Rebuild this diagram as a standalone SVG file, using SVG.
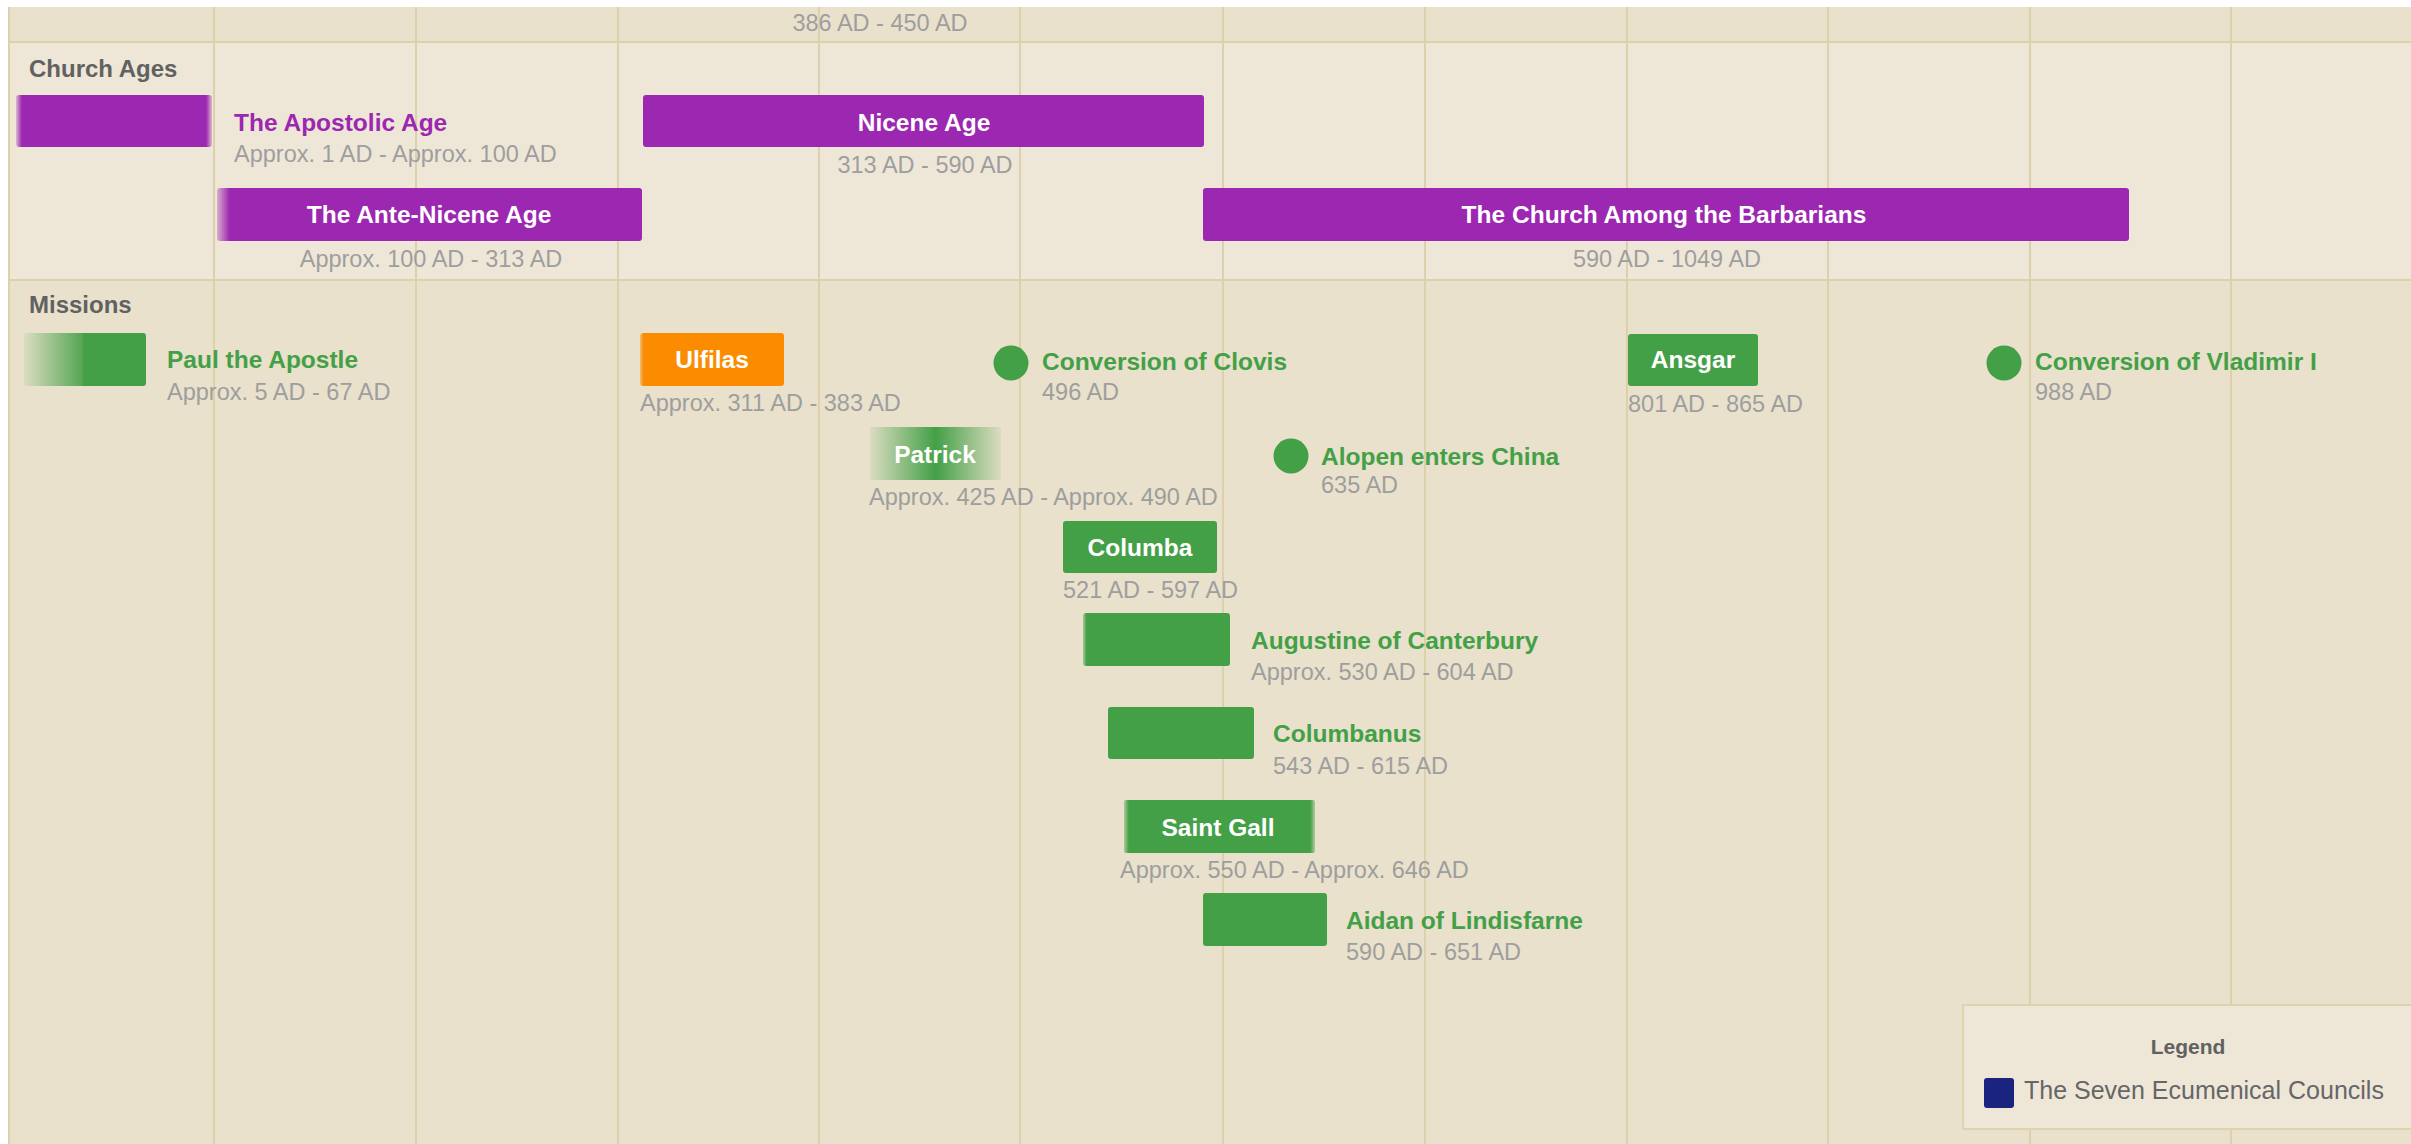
<svg xmlns="http://www.w3.org/2000/svg" width="2411" height="1144" viewBox="0 0 2411 1144">
<style>
.lane{fill:#616161;font-family:"Liberation Sans",Arial,sans-serif;font-weight:bold;font-size:24px}
.t{font-family:"Liberation Sans",Arial,sans-serif;font-weight:bold;font-size:24.5px}
.tw{fill:#ffffff;text-anchor:middle}
.tp{fill:#9C27B0}
.tg{fill:#43A047}
.d{fill:#9e9e9e;font-family:"Liberation Sans",Arial,sans-serif;font-size:23.5px}
.dc{text-anchor:middle}
.grid{stroke:#DDD1AC;stroke-width:2}
.hb{stroke:#DDD0AA;stroke-width:2}
.purple{fill:#9C27B0}
.green{fill:#43A047}
.orange{fill:#FB8C00}
</style>
<defs>
<linearGradient id="gApost" x1="0" y1="0" x2="1" y2="0">
<stop offset="0" stop-color="#9C27B0" stop-opacity="0.25"/>
<stop offset="0.03" stop-color="#9C27B0" stop-opacity="1"/>
<stop offset="0.97" stop-color="#9C27B0" stop-opacity="1"/>
<stop offset="1" stop-color="#9C27B0" stop-opacity="0.25"/>
</linearGradient>
<linearGradient id="gAnte" x1="0" y1="0" x2="1" y2="0">
<stop offset="0" stop-color="#9C27B0" stop-opacity="0.3"/>
<stop offset="0.03" stop-color="#9C27B0" stop-opacity="1"/>
<stop offset="1" stop-color="#9C27B0" stop-opacity="1"/>
</linearGradient>
<linearGradient id="gPaul" x1="0" y1="0" x2="1" y2="0">
<stop offset="0" stop-color="#43A047" stop-opacity="0.08"/>
<stop offset="0.48" stop-color="#43A047" stop-opacity="0.9"/>
<stop offset="0.49" stop-color="#43A047" stop-opacity="1"/>
<stop offset="1" stop-color="#43A047" stop-opacity="1"/>
</linearGradient>
<linearGradient id="gPatrick" x1="0" y1="0" x2="1" y2="0">
<stop offset="0" stop-color="#43A047" stop-opacity="0.08"/>
<stop offset="0.5" stop-color="#43A047" stop-opacity="1"/>
<stop offset="1" stop-color="#43A047" stop-opacity="0.08"/>
</linearGradient>
<linearGradient id="gUlfilas" x1="0" y1="0" x2="1" y2="0">
<stop offset="0" stop-color="#FB8C00" stop-opacity="0.4"/>
<stop offset="0.025" stop-color="#FB8C00" stop-opacity="1"/>
<stop offset="1" stop-color="#FB8C00" stop-opacity="1"/>
</linearGradient>
<linearGradient id="gAug" x1="0" y1="0" x2="1" y2="0">
<stop offset="0" stop-color="#43A047" stop-opacity="0.4"/>
<stop offset="0.025" stop-color="#43A047" stop-opacity="1"/>
<stop offset="1" stop-color="#43A047" stop-opacity="1"/>
</linearGradient>
<linearGradient id="gGall" x1="0" y1="0" x2="1" y2="0">
<stop offset="0" stop-color="#43A047" stop-opacity="0.35"/>
<stop offset="0.025" stop-color="#43A047" stop-opacity="1"/>
<stop offset="0.975" stop-color="#43A047" stop-opacity="1"/>
<stop offset="1" stop-color="#43A047" stop-opacity="0.35"/>
</linearGradient>
</defs>

<rect x="0" y="0" width="2411" height="1144" fill="#ffffff"/>
<g id="background">
<rect x="9" y="7" width="2402" height="35" fill="#E9E1CC"/>
<rect x="9" y="42" width="2402" height="238" fill="#EEE7D8"/>
<rect x="9" y="280" width="2402" height="864" fill="#E9E1CC"/>
<line class="grid" x1="214" y1="7" x2="214" y2="1144"/>
<line class="grid" x1="416" y1="7" x2="416" y2="1144"/>
<line class="grid" x1="618" y1="7" x2="618" y2="1144"/>
<line class="grid" x1="819" y1="7" x2="819" y2="1144"/>
<line class="grid" x1="1020" y1="7" x2="1020" y2="1144"/>
<line class="grid" x1="1223" y1="7" x2="1223" y2="1144"/>
<line class="grid" x1="1425" y1="7" x2="1425" y2="1144"/>
<line class="grid" x1="1627" y1="7" x2="1627" y2="1144"/>
<line class="grid" x1="1828" y1="7" x2="1828" y2="1144"/>
<line class="grid" x1="2030" y1="7" x2="2030" y2="1144"/>
<line class="grid" x1="2231" y1="7" x2="2231" y2="1144"/>
<line class="hb" x1="9" y1="42" x2="2411" y2="42"/>
<line class="hb" x1="9" y1="280" x2="2411" y2="280"/>
<line class="hb" x1="9" y1="7" x2="9" y2="1144"/>
<text class="d dc" x="880" y="31">386 AD - 450 AD</text>
<text class="lane" x="29" y="77">Church Ages</text>
<text class="lane" x="29" y="313">Missions</text>
</g>

<g id="connectors"></g>

<g id="apostolic-age">
<rect x="16" y="95" width="196" height="52" rx="3" fill="url(#gApost)"/>
<text class="t tp" x="234" y="131">The Apostolic Age</text>
<text class="d" x="234" y="162">Approx. 1 AD - Approx. 100 AD</text>
</g>
<g id="nicene-age">
<rect class="purple" x="643" y="95" width="561" height="52" rx="3"/>
<text class="t tw" x="924" y="131">Nicene Age</text>
<text class="d dc" x="925" y="173">313 AD - 590 AD</text>
</g>
<g id="ante-nicene-age">
<rect x="217" y="188" width="425" height="53" rx="3" fill="url(#gAnte)"/>
<text class="t tw" x="429" y="223">The Ante-Nicene Age</text>
<text class="d dc" x="431" y="267">Approx. 100 AD - 313 AD</text>
</g>
<g id="church-among-barbarians">
<rect class="purple" x="1203" y="188" width="926" height="53" rx="3"/>
<text class="t tw" x="1664" y="223">The Church Among the Barbarians</text>
<text class="d dc" x="1667" y="267">590 AD - 1049 AD</text>
</g>

<g id="paul">
<rect x="24" y="333" width="122" height="53" rx="3" fill="url(#gPaul)"/>
<text class="t tg" x="167" y="368">Paul the Apostle</text>
<text class="d" x="167" y="400">Approx. 5 AD - 67 AD</text>
</g>
<g id="ulfilas">
<rect x="640" y="333" width="144" height="53" rx="3" fill="url(#gUlfilas)"/>
<text class="t tw" x="712" y="368">Ulfilas</text>
<text class="d" x="640" y="411">Approx. 311 AD - 383 AD</text>
</g>
<g id="clovis">
<circle class="green" cx="1011" cy="363" r="17.5"/>
<text class="t tg" x="1042" y="370">Conversion of Clovis</text>
<text class="d" x="1042" y="400">496 AD</text>
</g>
<g id="patrick">
<rect x="870" y="427" width="131" height="53" fill="url(#gPatrick)"/>
<text class="t tw" x="935" y="463">Patrick</text>
<text class="d" x="869" y="505">Approx. 425 AD - Approx. 490 AD</text>
</g>
<g id="alopen">
<circle class="green" cx="1291" cy="456" r="17.5"/>
<text class="t tg" x="1321" y="465">Alopen enters China</text>
<text class="d" x="1321" y="493">635 AD</text>
</g>
<g id="columba">
<rect class="green" x="1063" y="521" width="154" height="52" rx="3"/>
<text class="t tw" x="1140" y="556">Columba</text>
<text class="d" x="1063" y="598">521 AD - 597 AD</text>
</g>
<g id="augustine">
<rect x="1083" y="613" width="147" height="53" rx="3" fill="url(#gAug)"/>
<text class="t tg" x="1251" y="649">Augustine of Canterbury</text>
<text class="d" x="1251" y="680">Approx. 530 AD - 604 AD</text>
</g>
<g id="columbanus">
<rect class="green" x="1108" y="707" width="146" height="52" rx="3"/>
<text class="t tg" x="1273" y="742">Columbanus</text>
<text class="d" x="1273" y="774">543 AD - 615 AD</text>
</g>
<g id="saint-gall">
<rect x="1124" y="800" width="191" height="53" rx="2" fill="url(#gGall)"/>
<text class="t tw" x="1218" y="836">Saint Gall</text>
<text class="d" x="1120" y="878">Approx. 550 AD - Approx. 646 AD</text>
</g>
<g id="aidan">
<rect class="green" x="1203" y="893" width="124" height="53" rx="3"/>
<text class="t tg" x="1346" y="929">Aidan of Lindisfarne</text>
<text class="d" x="1346" y="960">590 AD - 651 AD</text>
</g>
<g id="ansgar">
<rect class="green" x="1628" y="334" width="130" height="52" rx="3"/>
<text class="t tw" x="1693" y="368">Ansgar</text>
<text class="d" x="1628" y="412">801 AD - 865 AD</text>
</g>
<g id="vladimir">
<circle class="green" cx="2004" cy="363" r="17.5"/>
<text class="t tg" x="2035" y="370">Conversion of Vladimir I</text>
<text class="d" x="2035" y="400">988 AD</text>
</g>

<g id="legend">
<rect x="1963" y="1005" width="460" height="124" fill="#EEE7D8" stroke="#DFD2AE" stroke-width="2"/>
<text x="2188" y="1054" text-anchor="middle" fill="#616161" font-family="'Liberation Sans',Arial,sans-serif" font-weight="bold" font-size="21">Legend</text>
<rect x="1984" y="1078" width="30" height="30" rx="3" fill="#1A237E"/>
<text x="2024" y="1099" fill="#666666" font-family="'Liberation Sans',Arial,sans-serif" font-size="25">The Seven Ecumenical Councils</text>
</g>
</svg>
